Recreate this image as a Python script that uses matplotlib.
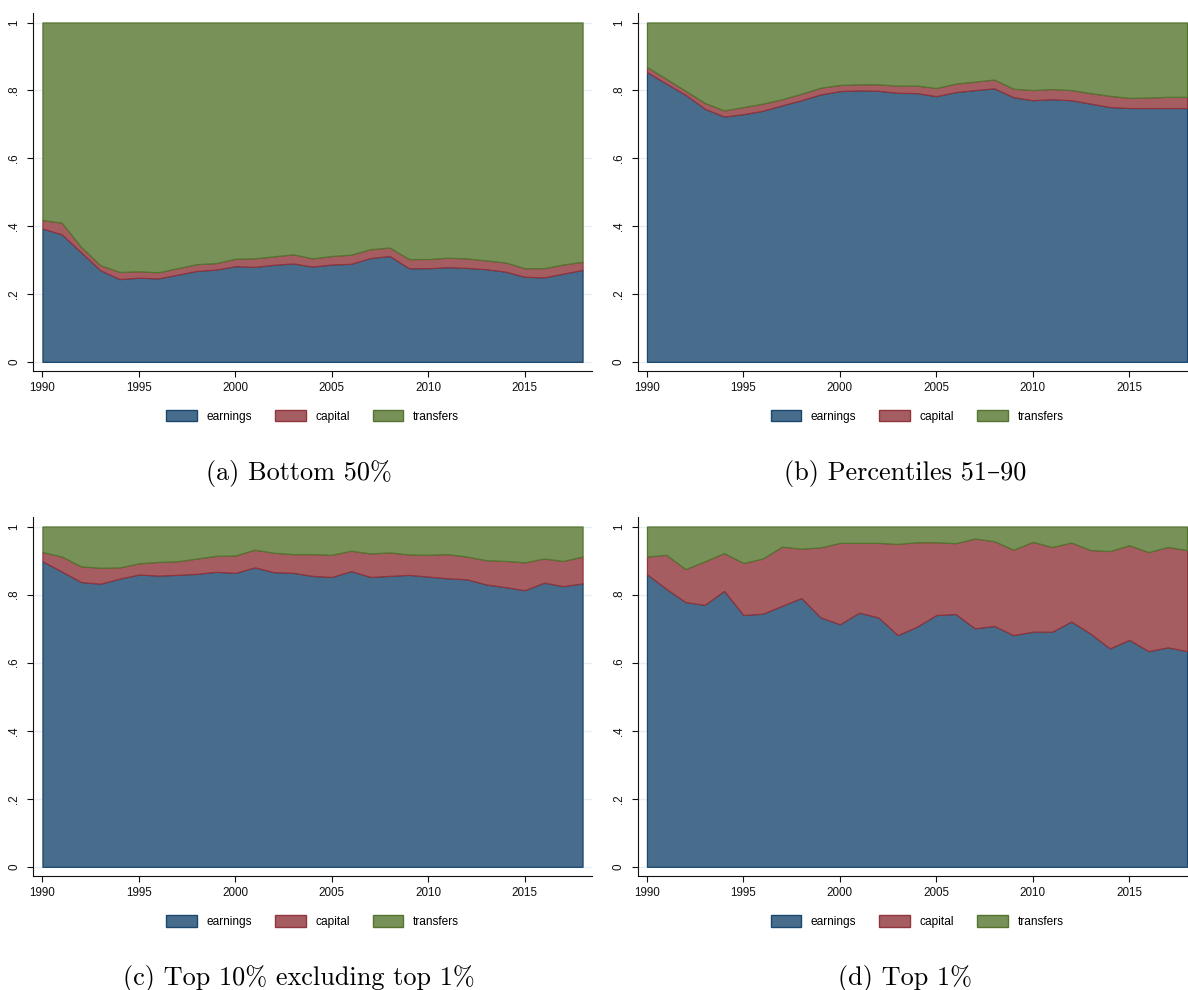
import matplotlib

matplotlib.use("Agg")
import matplotlib.pyplot as plt
import numpy as np
from matplotlib.patches import Patch

plt.rcParams["font.family"] = ["Liberation Sans", "DejaVu Sans"]

years = list(range(1990, 2019))

# (a) Bottom 50%
earnings_a = [0.393, 0.376, 0.323, 0.270, 0.244, 0.248, 0.246, 0.257, 0.268, 0.272,
              0.282, 0.280, 0.286, 0.290, 0.281, 0.287, 0.289, 0.306, 0.312, 0.276,
              0.276, 0.279, 0.277, 0.273, 0.266, 0.251, 0.249, 0.260, 0.271]
capital_a = [0.025, 0.034, 0.016, 0.015, 0.021, 0.019, 0.018, 0.019, 0.020, 0.019,
             0.022, 0.025, 0.025, 0.027, 0.024, 0.025, 0.027, 0.026, 0.025, 0.027,
             0.027, 0.028, 0.028, 0.026, 0.027, 0.025, 0.027, 0.027, 0.024]
transfers_a = [0.582, 0.590, 0.661, 0.715, 0.735, 0.733, 0.736, 0.724, 0.712, 0.709,
               0.696, 0.695, 0.689, 0.683, 0.695, 0.688, 0.684, 0.668, 0.663, 0.697,
               0.697, 0.693, 0.695, 0.701, 0.707, 0.724, 0.724, 0.713, 0.705]

# (b) Percentiles 51-90
earnings_b = [0.854, 0.820, 0.787, 0.746, 0.723, 0.730, 0.740, 0.756, 0.771, 0.788,
              0.798, 0.800, 0.799, 0.793, 0.792, 0.783, 0.795, 0.801, 0.806, 0.780,
              0.771, 0.774, 0.771, 0.761, 0.751, 0.748, 0.748, 0.748, 0.748]
capital_b = [0.015, 0.014, 0.012, 0.017, 0.018, 0.021, 0.021, 0.018, 0.019, 0.020,
             0.018, 0.018, 0.019, 0.021, 0.022, 0.024, 0.025, 0.025, 0.026, 0.025,
             0.030, 0.030, 0.030, 0.031, 0.033, 0.030, 0.031, 0.033, 0.033]
transfers_b = [0.131, 0.166, 0.201, 0.237, 0.259, 0.249, 0.239, 0.226, 0.210, 0.192,
               0.184, 0.182, 0.182, 0.186, 0.186, 0.193, 0.180, 0.174, 0.168, 0.195,
               0.199, 0.196, 0.199, 0.208, 0.216, 0.222, 0.221, 0.219, 0.219]

# (c) Top 10% excluding top 1%
earnings_c = [0.898, 0.868, 0.837, 0.832, 0.847, 0.859, 0.856, 0.858, 0.861, 0.867,
              0.864, 0.880, 0.866, 0.864, 0.855, 0.852, 0.869, 0.852, 0.855, 0.858,
              0.853, 0.848, 0.845, 0.830, 0.822, 0.813, 0.835, 0.825, 0.833]
capital_c = [0.027, 0.044, 0.046, 0.047, 0.033, 0.033, 0.040, 0.040, 0.045, 0.047,
             0.051, 0.052, 0.057, 0.055, 0.064, 0.065, 0.060, 0.069, 0.069, 0.060,
             0.064, 0.071, 0.067, 0.071, 0.077, 0.082, 0.071, 0.074, 0.079]
transfers_c = [0.075, 0.088, 0.117, 0.121, 0.120, 0.108, 0.104, 0.102, 0.094, 0.086,
               0.085, 0.068, 0.077, 0.081, 0.081, 0.083, 0.071, 0.079, 0.076, 0.082,
               0.083, 0.081, 0.088, 0.099, 0.101, 0.105, 0.094, 0.101, 0.088]

# (d) Top 1%
earnings_d = [0.860, 0.817, 0.778, 0.770, 0.811, 0.740, 0.744, 0.767, 0.790, 0.733,
              0.713, 0.747, 0.733, 0.681, 0.706, 0.740, 0.743, 0.701, 0.708, 0.681,
              0.691, 0.691, 0.721, 0.685, 0.642, 0.667, 0.634, 0.645, 0.634]
capital_d = [0.052, 0.100, 0.097, 0.128, 0.111, 0.153, 0.162, 0.174, 0.145, 0.206,
             0.239, 0.205, 0.219, 0.268, 0.248, 0.214, 0.208, 0.264, 0.249, 0.251,
             0.264, 0.249, 0.232, 0.246, 0.286, 0.278, 0.291, 0.295, 0.297]
transfers_d = [0.088, 0.083, 0.125, 0.102, 0.078, 0.107, 0.094, 0.059, 0.065, 0.061,
               0.048, 0.048, 0.048, 0.051, 0.046, 0.046, 0.049, 0.035, 0.043, 0.068,
               0.045, 0.060, 0.047, 0.069, 0.072, 0.055, 0.075, 0.060, 0.069]

series_names = ["earnings", "capital", "transfers"]
captions = ["(a) Bottom 50%", "(b) Percentiles 51–90",
            "(c) Top 10% excluding top 1%", "(d) Top 1%"]
y_ticks = [0, 0.2, 0.4, 0.6, 0.8, 1]
y_tick_labels = ["0", ".2", ".4", ".6", ".8", "1"]
x_ticks = [1990, 1995, 2000, 2005, 2010, 2015]

# Stata s2color: navy, maroon, forest_green (fill at 80% intensity)
fills = ["#486C8C", "#A65D62", "#779159"]
edges = ["#1A476F", "#90353B", "#55752F"]

W, H = 1188, 990
# axes boxes in pixels: left, top, right, bottom
boxes = [(33, 13, 592, 371), (637.5, 13, 1196.5, 371),
         (33, 517, 592, 876), (637.5, 517, 1196.5, 876)]
caption_pos = [(298.5, 480), (905, 480), (298.5, 985), (905, 985)]

panels = [
    (earnings_a, capital_a, transfers_a),
    (earnings_b, capital_b, transfers_b),
    (earnings_c, capital_c, transfers_c),
    (earnings_d, capital_d, transfers_d),
]

fig = plt.figure(figsize=(W / 100, H / 100), dpi=100)

for (l, t, r, b), data, cap, (cx, cy) in zip(boxes, panels, captions, caption_pos):
    ax = fig.add_axes([l / W, 1 - b / H, (r - l) / W, (b - t) / H])
    lower = np.zeros(len(years))
    for vals, fc, ec in zip(data, fills, edges):
        upper = lower + np.array(vals)
        ax.fill_between(years, lower, upper, facecolor=fc, edgecolor=ec,
                        linewidth=0.9, zorder=2)
        lower = upper

    ax.set_xlim(1989.51, 2018.49)
    ax.set_ylim(-0.027, 1.028)
    ax.set_xticks(x_ticks)
    ax.set_yticks(y_ticks)
    ax.set_yticklabels(y_tick_labels, rotation=90, va="center", ha="right")
    ax.tick_params(axis="both", direction="out", length=4.2, width=0.8,
                   labelsize=8.4, colors="#111111")
    ax.tick_params(axis="x", pad=4.0)
    ax.tick_params(axis="y", pad=5.0)
    for side in ("top", "right"):
        ax.spines[side].set_visible(False)
    for side in ("left", "bottom"):
        ax.spines[side].set_linewidth(0.8)
        ax.spines[side].set_color("#111111")
    ax.yaxis.grid(True, color="#E6EFF1", linewidth=1.0)
    ax.set_axisbelow(True)

    handles = [Patch(facecolor=fc, edgecolor=ec, linewidth=1.0, label=n)
               for fc, ec, n in zip(fills, edges, series_names)]
    ax.legend(handles=handles, loc="center", bbox_to_anchor=(0.5, -0.126),
              ncol=3, frameon=False, fontsize=8.6, handlelength=2.57,
              handleheight=1.15, handletextpad=0.8, columnspacing=1.93,
              borderaxespad=0, borderpad=0)

    fig.text(cx / W, 1 - cy / H, cap, ha="center", va="baseline",
             fontsize=18.9, family=["cmr10", "DejaVu Serif"])

fig.savefig("out.png", dpi=100)
